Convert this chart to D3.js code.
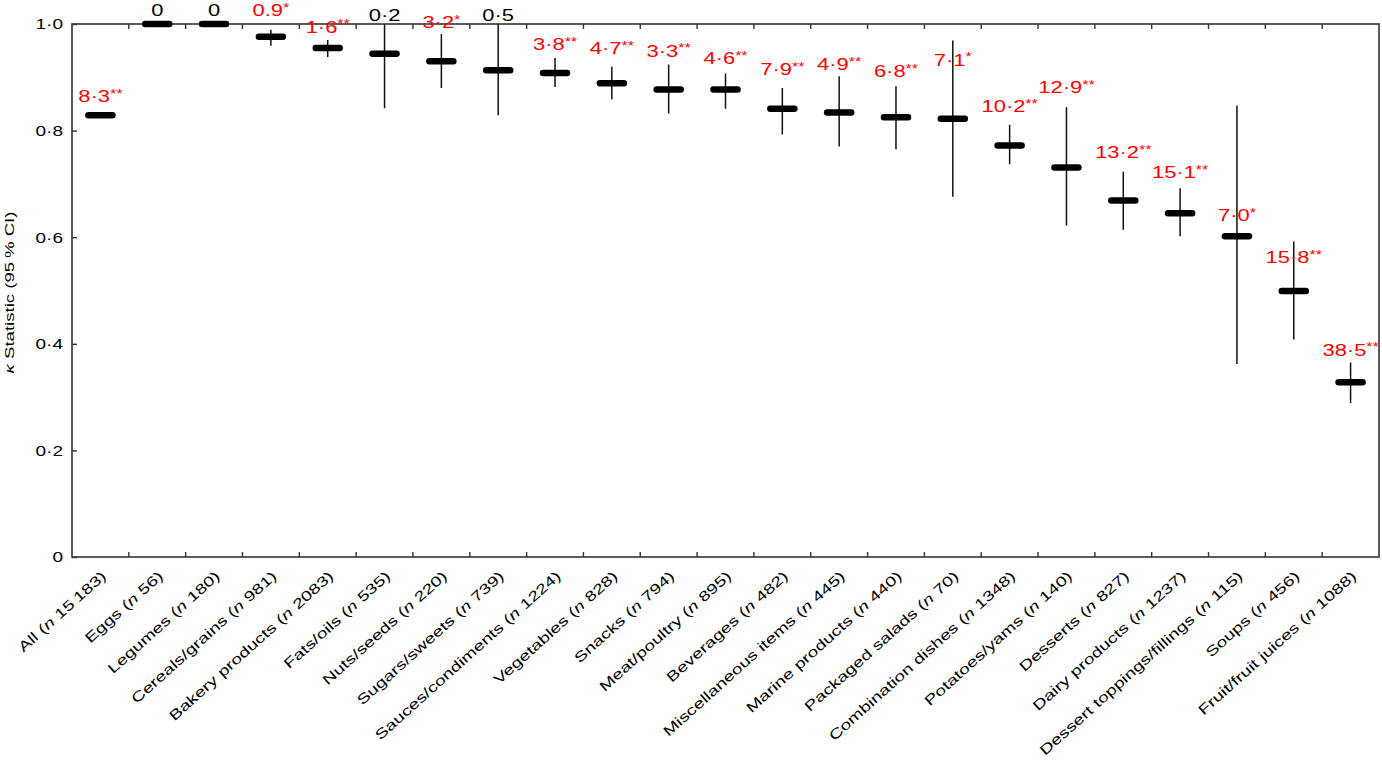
<!DOCTYPE html>
<html>
<head>
<meta charset="utf-8">
<script src="https://cdn.jsdelivr.net/npm/d3@7/dist/d3.min.js"></script>
<style>
  html, body { margin: 0; padding: 0; background: #fff; }
  svg { display: block; font-family: "Liberation Sans", Arial, Helvetica, sans-serif; }
</style>
</head>
<body>
<svg id="chart" width="1382" height="768"></svg>
<script>
// ---- Data ----
const categories = ["All", "Eggs", "Legumes", "Cereals/grains", "Bakery products", "Fats/oils",
  "Nuts/seeds", "Sugars/sweets", "Sauces/condiments", "Vegetables", "Snacks", "Meat/poultry",
  "Beverages", "Miscellaneous items", "Marine products", "Packaged salads", "Combination dishes",
  "Potatoes/yams", "Desserts", "Dairy products", "Dessert toppings/fillings", "Soups", "Fruit/fruit juices"];
const sampleSizes = [15183, 56, 180, 981, 2083, 535, 220, 739, 1224, 828, 794, 895,
  482, 445, 440, 70, 1348, 140, 827, 1237, 115, 456, 1088];
const kappa = [0.829, 1.0, 1.0, 0.976, 0.955, 0.944, 0.930, 0.913, 0.908, 0.889, 0.877, 0.877,
  0.841, 0.834, 0.825, 0.822, 0.772, 0.731, 0.669, 0.645, 0.602, 0.499, 0.328];
const ciLow = [0.825, 1.0, 1.0, 0.959, 0.938, 0.842, 0.880, 0.829, 0.882, 0.859, 0.832, 0.841,
  0.793, 0.770, 0.765, 0.676, 0.737, 0.622, 0.614, 0.602, 0.362, 0.408, 0.289];
const ciHigh = [0.835, 1.0, 1.0, 0.989, 0.970, 1.0, 0.981, 1.0, 0.936, 0.920, 0.924, 0.907,
  0.880, 0.902, 0.883, 0.969, 0.811, 0.844, 0.723, 0.692, 0.847, 0.592, 0.365];
const annotations = ["8·3**", "0", "0", "0.9*", "1·6**", "0·2", "3·2*", "0·5", "3·8**", "4·7**",
  "3·3**", "4·6**", "7·9**", "4·9**", "6·8**", "7·1*", "10·2**", "12·9**", "13·2**", "15·1**",
  "7·0*", "15·8**", "38·5**"];
// level (kappa units) at which each annotation's baseline sits
const annotationLevel = [0.854, 1.015, 1.015, 1.015, 0.984, 1.006, 0.992, 1.006, 0.951, 0.944,
  0.939, 0.925, 0.904, 0.914, 0.901, 0.922, 0.834, 0.870, 0.749, 0.711, 0.630, 0.551, 0.378];
const yTicks = [0, 0.2, 0.4, 0.6, 0.8, 1.0];

// ---- Layout ----
const svg = d3.select("#chart");
const margin = { left: 72, right: 3, top: 24, bottom: 211 };
const W = 1382, H = 768;
const x0 = margin.left, x1 = W - margin.right, y0 = H - margin.bottom, y1 = margin.top;

const x = d3.scaleBand().domain(categories).range([x0, x1]).padding(0);
const y = d3.scaleLinear().domain([0, 1]).range([y0, y1]);
const fmt = v => (v === 0 ? "0" : d3.format(".1f")(v).replace(".", "·"));

const frameColor = "#333";

// frame
svg.append("rect")
  .attr("x", x0).attr("y", y1).attr("width", x1 - x0).attr("height", y0 - y1)
  .attr("fill", "none").attr("stroke", frameColor).attr("stroke-width", 1.6);

// category boundary ticks (bottom & top, inward)
const boundaries = categories.slice(1).map(c => x(c));
svg.append("g").selectAll("line").data(boundaries).join("line")
  .attr("x1", d => d).attr("x2", d => d).attr("y1", y0).attr("y2", y0 - 5)
  .attr("stroke", frameColor).attr("stroke-width", 1.4);
svg.append("g").selectAll("line").data(boundaries).join("line")
  .attr("x1", d => d).attr("x2", d => d).attr("y1", y1).attr("y2", y1 + 5)
  .attr("stroke", frameColor).attr("stroke-width", 1.4);

// y axis ticks and labels
const yAxis = d3.axisLeft(y).tickValues(yTicks).tickSize(-5).tickPadding(9).tickFormat(fmt);
const gy = svg.append("g").attr("transform", `translate(${x0},0)`).call(yAxis);
gy.select(".domain").remove();
gy.selectAll(".tick line").attr("stroke", frameColor).attr("stroke-width", 1.4);
gy.selectAll(".tick text")
  .attr("font-size", 15).attr("fill", "#000")
  .attr("font-family", "Liberation Sans, Arial, sans-serif")
  .attr("x", 0)
  .attr("transform", "translate(-9,0) scale(1.27,1)");

// y axis title
const yt = svg.append("text")
  .attr("transform", `translate(13.5,${(y0 + y1) / 2 + 2}) rotate(-90) scale(1.38,1)`)
  .attr("text-anchor", "middle").attr("font-size", 13.5).attr("fill", "#000");
yt.append("tspan").attr("font-style", "italic").text("κ");
yt.append("tspan").text(" Statistic (95\u2009% CI)");

// x labels
const fmtN = n => (n >= 10000 ? String(n).replace(/(\d{3})$/, "\u2009$1") : String(n));
const xl = svg.append("g").selectAll("text").data(categories).join("text")
  .attr("transform", d => `translate(${x(d) + x.bandwidth() / 2},${y0 + 13}) rotate(-42) scale(1.37,1)`)
  .attr("text-anchor", "end").attr("dy", "0.71em").attr("font-size", 14).attr("fill", "#000");
xl.each(function (d, i) {
  const t = d3.select(this);
  t.append("tspan").text(d + " (");
  t.append("tspan").attr("font-style", "italic").text("n");
  t.append("tspan").text(" " + fmtN(sampleSizes[i]) + ")");
});

// CI lines
const cx = i => x(categories[i]) + x.bandwidth() / 2;
svg.append("g").selectAll("line").data(categories).join("line")
  .attr("x1", (d, i) => cx(i)).attr("x2", (d, i) => cx(i))
  .attr("y1", (d, i) => y(ciLow[i])).attr("y2", (d, i) => y(ciHigh[i]))
  .attr("stroke", "#111").attr("stroke-width", 1.5);

// point estimate markers
svg.append("g").selectAll("line").data(categories).join("line")
  .attr("x1", (d, i) => cx(i) - 12).attr("x2", (d, i) => cx(i) + 12)
  .attr("y1", (d, i) => y(kappa[i])).attr("y2", (d, i) => y(kappa[i]))
  .attr("stroke", "#000").attr("stroke-width", 6.5).attr("stroke-linecap", "round");

// annotations
const ann = svg.append("g").selectAll("text").data(annotations).join("text")
  .attr("transform", (d, i) => `translate(${cx(i)},${y(annotationLevel[i])}) scale(1.33,1)`)
  .attr("text-anchor", "middle").attr("font-size", 16.5)
  .attr("fill", d => (d.includes("*") ? "#ff0000" : "#000"));
ann.each(function (d) {
  const t = d3.select(this);
  const m = d.match(/^([^*]+)(\**)$/);
  t.append("tspan").text(m[1]);
  if (m[2]) t.append("tspan").attr("font-size", 12).attr("dy", "-0.35em").text(m[2]);
});
</script>
</body>
</html>
